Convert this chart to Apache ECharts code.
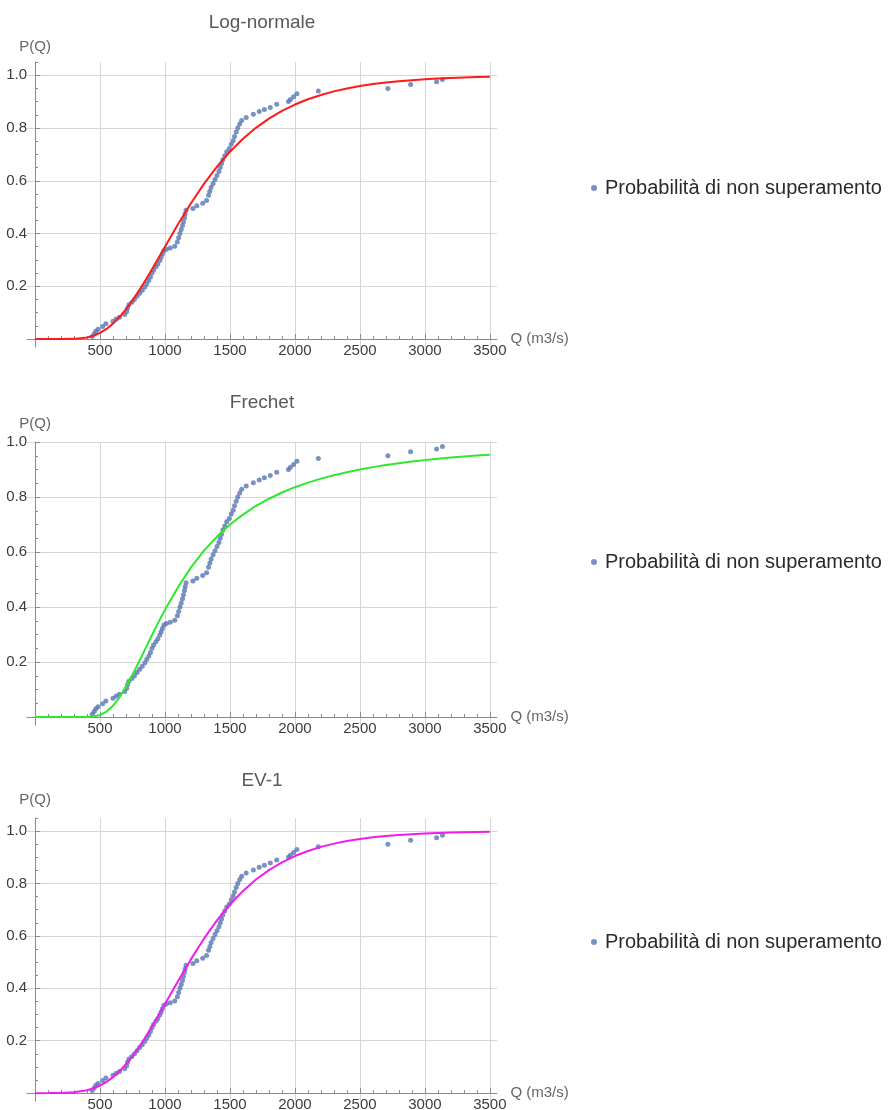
<!DOCTYPE html>
<html><head><meta charset="utf-8">
<script src="https://cdn.jsdelivr.net/npm/echarts@6/dist/echarts.min.js"></script>
<style>html,body{margin:0;padding:0;background:#fff}#c{width:896px;height:1110px}</style>
</head><body><div id="c"></div>
<script>
// ---- data ----
const chartTitles = ['Log-normale', 'Frechet', 'EV-1'];
const legendName = 'Probabilità di non superamento';
const xAxisName = 'Q (m3/s)';
const yAxisName = 'P(Q)';
const xTickValues = [500, 1000, 1500, 2000, 2500, 3000, 3500];
const xMinorTickValues = [100,200,300,400,600,700,800,900,1100,1200,1300,1400,1600,1700,1800,1900,2100,2200,2300,2400,2600,2700,2800,2900,3100,3200,3300,3400];
const yTickValues = [0.2, 0.4, 0.6, 0.8, 1.0];
const yMinorTickValues = [0.05,0.1,0.15,0.25,0.3,0.35,0.45,0.5,0.55,0.65,0.7,0.75,0.85,0.9,0.95,1.05];

// observed non-exceedance probabilities (empirical)
const qObs = [440,455,468,485,520,545,600,625,650,690,705,712,722,745,765,785,805,825,845,860,875,888,900,912,930,945,960,970,980,992,1010,1040,1075,1095,1105,1115,1125,1135,1142,1150,1155,1162,1215,1245,1290,1320,1335,1345,1355,1370,1385,1400,1415,1425,1435,1445,1460,1475,1495,1510,1525,1535,1548,1560,1575,1590,1625,1680,1725,1765,1810,1860,1950,1965,1990,2015,2180,2715,2890,3090,3135];
const pObs = [0.010,0.020,0.030,0.037,0.048,0.058,0.068,0.076,0.083,0.093,0.105,0.118,0.130,0.140,0.150,0.162,0.174,0.185,0.197,0.210,0.222,0.235,0.250,0.262,0.274,0.285,0.298,0.310,0.322,0.335,0.340,0.345,0.352,0.368,0.384,0.400,0.415,0.430,0.445,0.460,0.474,0.488,0.495,0.505,0.515,0.525,0.545,0.560,0.575,0.590,0.605,0.620,0.635,0.650,0.665,0.680,0.695,0.710,0.722,0.738,0.752,0.768,0.785,0.800,0.815,0.828,0.840,0.852,0.862,0.870,0.878,0.890,0.900,0.908,0.918,0.930,0.940,0.950,0.965,0.975,0.984];

// fitted curves
const qFit = [0,100,200,300,400,450,500,550,600,650,700,750,800,850,900,950,1000,1100,1200,1300,1400,1500,1600,1700,1800,1900,2000,2100,2200,2300,2400,2500,2600,2700,2800,2900,3000,3100,3200,3300,3400,3500];
const pLogNormal = [0,0,0,0.0008,0.0061,0.0127,0.0234,0.0385,0.0586,0.0835,0.1130,0.1466,0.1837,0.2231,0.2648,0.3073,0.3502,0.4348,0.5149,0.5881,0.6532,0.7102,0.7591,0.8006,0.8355,0.8646,0.8888,0.9087,0.9251,0.9386,0.9497,0.9588,0.9662,0.9722,0.9772,0.9812,0.9846,0.9873,0.9895,0.9913,0.9928,0.9941];
const pFrechet  = [0,0,0,0,0.0002,0.0017,0.0072,0.0196,0.0410,0.0716,0.1100,0.1538,0.2010,0.2496,0.2980,0.3451,0.3900,0.4720,0.5440,0.6050,0.6560,0.7000,0.7360,0.7675,0.7937,0.8163,0.8357,0.8523,0.8668,0.8793,0.8903,0.9001,0.9086,0.9161,0.9228,0.9288,0.9341,0.9389,0.9433,0.9472,0.9507,0.9540];
const pEV1      = [0,0.0001,0.0007,0.0033,0.0112,0.0185,0.0289,0.0430,0.0612,0.0837,0.1105,0.1415,0.1762,0.2140,0.2544,0.2966,0.3399,0.4271,0.5114,0.5894,0.6591,0.7199,0.7718,0.8153,0.8513,0.8808,0.9048,0.9241,0.9397,0.9522,0.9621,0.9700,0.9763,0.9812,0.9852,0.9883,0.9907,0.9927,0.9942,0.9955,0.9964,0.9972];
const fitCurves = [pLogNormal, pFrechet, pEV1];
const fitColors = ['#ff1a1a', '#2ee82e', '#f01cf0'];

// ---- layout ----
const gridTops = [62, 442, 818];
const gridHeights = [285, 283.25, 283];
const yMaxes = [1.05, 1.0, 1.05];
const yMin = -0.03;
const xMin = -62, xMax = 3555;
const nameGaps = [8, 11, 11];
const titleYs = [23, 403, 781];
const legendTops = [178, 552, 932];

const FONT = '"Liberation Sans", Arial, sans-serif';
const axisColor = '#8a8a8a';
const gridColor = '#d6d6d6';
const labelColor = '#3c3c3c';
const ptColor = '#5877b2';

const grids = [], xAxes = [], yAxes = [], series = [], legends = [], graphics = [];
for (let g = 0; g < 3; g++) {
  grids.push({left: 27, width: 470, top: gridTops[g], height: gridHeights[g], containLabel: false, outerBoundsMode: 'none'});
  const ymax = yMaxes[g];
  xAxes.push({
    gridIndex: g, type: 'value', min: xMin, max: xMax, position: 'bottom',
    axisLine: {show: true, onZero: true, lineStyle: {color: axisColor, width: 1}},
    axisTick: {show: true, inside: true, length: 5, customValues: xTickValues, lineStyle: {color: axisColor}},
    axisLabel: {show: true, customValues: xTickValues, margin: -4, fontSize: 15, color: labelColor, fontFamily: FONT,
                formatter: v => String(Math.round(v))},
    splitLine: {show: true, lineStyle: {color: gridColor, width: 1}},
    name: xAxisName, nameLocation: 'end', nameGap: 13,
    nameTextStyle: {fontSize: 15, color: '#666', fontFamily: FONT, verticalAlign: 'middle', padding: [0,0,4,0]}
  });
  xAxes.push({
    gridIndex: g, type: 'value', min: xMin, max: xMax, position: 'bottom',
    axisLine: {show: false, onZero: true},
    axisTick: {show: true, inside: true, length: 3, customValues: xMinorTickValues, lineStyle: {color: axisColor}},
    axisLabel: {show: false}, splitLine: {show: false}
  });
  yAxes.push({
    gridIndex: g, type: 'value', min: yMin, max: ymax, position: 'left',
    axisLine: {show: true, onZero: true, lineStyle: {color: axisColor, width: 1}},
    axisTick: {show: true, inside: true, length: 5, customValues: yTickValues, lineStyle: {color: axisColor}},
    axisLabel: {show: true, customValues: yTickValues, margin: 0, fontSize: 15, color: labelColor, fontFamily: FONT,
                formatter: v => v.toFixed(1)},
    splitLine: {show: true, lineStyle: {color: gridColor, width: 1}},
    name: yAxisName, nameLocation: 'end', nameGap: nameGaps[g],
    nameTextStyle: {fontSize: 15, color: '#666', fontFamily: FONT}
  });
  yAxes.push({
    gridIndex: g, type: 'value', min: yMin, max: ymax, position: 'left',
    axisLine: {show: false, onZero: true},
    axisTick: {show: true, inside: true, length: 3, customValues: yMinorTickValues.filter(v => v <= ymax + 1e-9), lineStyle: {color: axisColor}},
    axisLabel: {show: false}, splitLine: {show: false}
  });
  series.push({
    type: 'scatter', name: legendName, xAxisIndex: 2 * g, yAxisIndex: 2 * g,
    symbol: 'circle', symbolSize: 5, itemStyle: {color: ptColor},
    data: qObs.map((q, i) => [q, pObs[i]]), z: 3
  });
  series.push({
    type: 'line', name: chartTitles[g], xAxisIndex: 2 * g, yAxisIndex: 2 * g,
    data: qFit.map((q, i) => [q, fitCurves[g][i]]),
    smooth: false, showSymbol: false, symbol: 'none',
    lineStyle: {color: fitColors[g], width: 2}, z: 4
  });
  legends.push({
    data: [{name: legendName, icon: 'circle'}], left: 591, top: legendTops[g], padding: 0,
    itemWidth: 12, itemHeight: 6, itemGap: 0, selectedMode: false,
    textStyle: {fontSize: 20, color: '#2a2a2a', fontFamily: FONT}
  });
  graphics.push({
    type: 'text', x: 262, y: titleYs[g],
    style: {text: chartTitles[g], fill: '#595959', font: '19px ' + FONT, align: 'center', verticalAlign: 'middle'}
  });
}

const chart = echarts.init(document.getElementById('c'), null, {renderer: 'canvas'});
chart.setOption({
  animation: false,
  backgroundColor: '#ffffff',
  grid: grids, xAxis: xAxes, yAxis: yAxes, series: series,
  legend: legends, graphic: graphics
});
</script></body></html>
